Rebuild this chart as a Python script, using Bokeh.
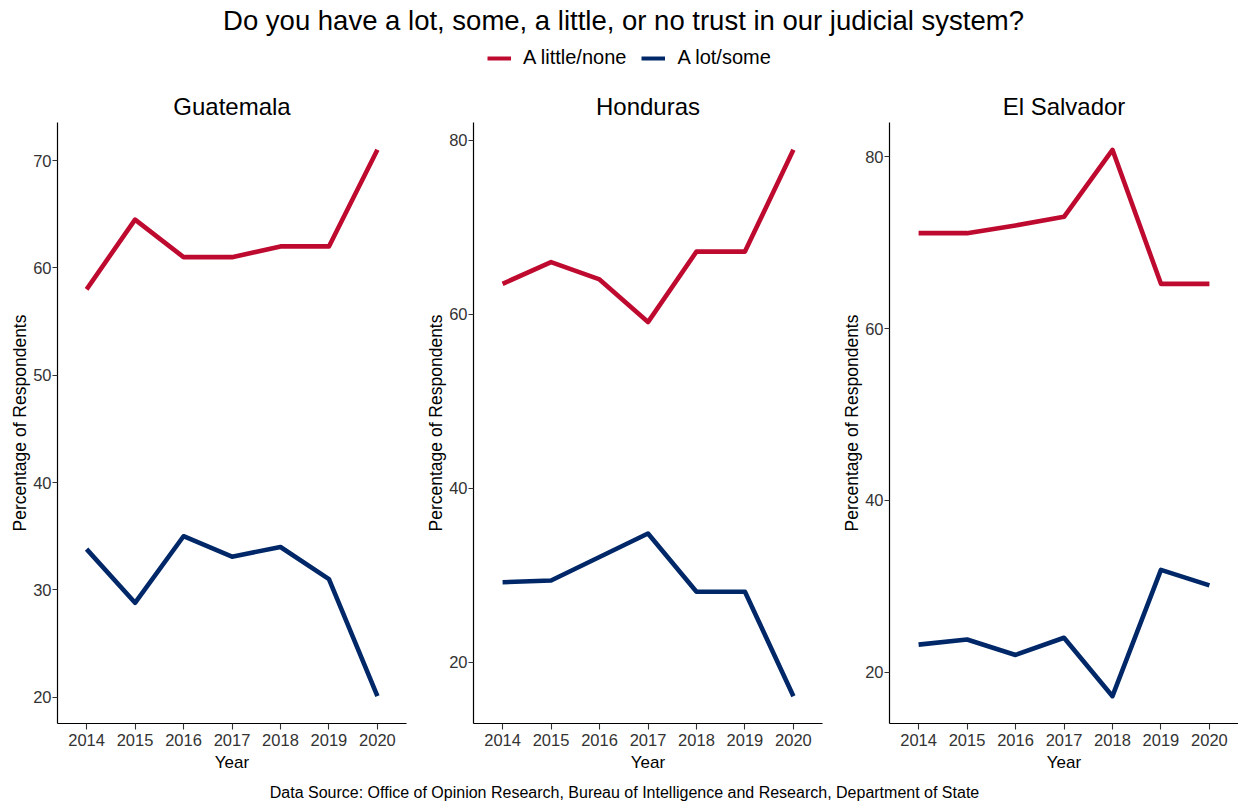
from bokeh.plotting import figure
from bokeh.layouts import column, row
from bokeh.models import Range1d, FixedTicker, Label, Legend, LegendItem
from bokeh.embed import file_html
from bokeh.resources import INLINE

# ---------------- data ----------------
title_text = "Do you have a lot, some, a little, or no trust in our judicial system?"
caption_text = ("Data Source: Office of Opinion Research, Bureau of Intelligence and Research, "
                "Department of State")
years = [2014, 2015, 2016, 2017, 2018, 2019, 2020]
series_names = ["A little/none", "A lot/some"]
countries = ["Guatemala", "Honduras", "El Salvador"]

guatemala_little_none = [58.0, 64.5, 61.0, 61.0, 62.0, 62.0, 71.0]
guatemala_lot_some = [33.8, 28.8, 35.0, 33.1, 34.0, 31.0, 20.1]
honduras_little_none = [63.5, 66.0, 64.0, 59.1, 67.2, 67.2, 78.9]
honduras_lot_some = [29.2, 29.4, 32.1, 34.8, 28.1, 28.1, 16.1]
el_salvador_little_none = [71.1, 71.1, 72.0, 73.0, 80.8, 65.2, 65.2]
el_salvador_lot_some = [23.2, 23.8, 22.0, 24.0, 17.2, 31.9, 30.1]

guatemala_yticks = [20, 30, 40, 50, 60, 70]
honduras_yticks = [20, 40, 60, 80]
el_salvador_yticks = [20, 40, 60, 80]

# ---------------- style ----------------
RED = "#BF0A30"
BLUE = "#002868"
FONT = "Liberation Sans"
HEADER_H = 84
PANEL_H = 691
FOOTER_H = 28


def panel(name, little, lot, yticks, width, b_left, b_right):
    vals = little + lot
    lo, hi = min(vals), max(vals)
    pad = 0.05 * (hi - lo)
    p = figure(width=width, height=PANEL_H,
               x_range=Range1d(years[0] - 0.6, years[-1] + 0.6),
               y_range=Range1d(lo - pad, hi + pad),
               toolbar_location=None, output_backend="svg", title=name,
               min_border_left=b_left, min_border_right=b_right,
               min_border_top=38, min_border_bottom=52)
    p.title.align = "center"
    p.title.text_font = FONT
    p.title.text_font_size = "24px"
    p.title.text_font_style = "normal"
    p.title.text_color = "black"
    p.title.standoff = 6
    p.grid.visible = False
    p.outline_line_color = None
    p.background_fill_color = "white"
    p.border_fill_color = "white"

    p.line(years, little, line_color=RED, line_width=4.6, line_join="round", line_cap="butt")
    p.line(years, lot, line_color=BLUE, line_width=4.6, line_join="round", line_cap="butt")

    p.xaxis.ticker = FixedTicker(ticks=years)
    p.yaxis.ticker = FixedTicker(ticks=yticks)
    p.xaxis.axis_label = "Year"
    p.yaxis.axis_label = "Percentage of Respondents"
    for ax in (p.xaxis[0], p.yaxis[0]):
        ax.major_tick_out = 5
        ax.major_tick_in = 0
        ax.minor_tick_out = 0
        ax.minor_tick_in = 0
        ax.axis_line_color = "black"
        ax.axis_line_width = 1.2
        ax.major_tick_line_color = "#333333"
        ax.major_tick_line_width = 1.1
        ax.major_label_text_font = FONT
        ax.major_label_text_font_size = "16.5px"
        ax.major_label_text_color = "#333333"
        ax.axis_label_text_font = FONT
        ax.axis_label_text_font_style = "normal"
        ax.axis_label_text_color = "black"
        ax.axis_label_standoff = 0
    p.xaxis.major_tick_out = 6
    p.xaxis.major_label_standoff = 4
    p.yaxis.major_label_standoff = 1
    p.xaxis.axis_label_standoff = 4
    p.xaxis.axis_label_text_font_size = "17px"
    p.yaxis.axis_label_text_font_size = "17.5px"
    return p


p1 = panel(countries[0], guatemala_little_none, guatemala_lot_some, guatemala_yticks, 419, 57, 13)
p2 = panel(countries[1], honduras_little_none, honduras_lot_some, honduras_yticks, 416, 54, 13)
p3 = panel(countries[2], el_salvador_little_none, el_salvador_lot_some, el_salvador_yticks, 403, 54, 0)

# ---------------- header: title + legend ----------------
h = figure(width=1238, height=HEADER_H, x_range=Range1d(0, 1), y_range=Range1d(0, 1),
           toolbar_location=None, output_backend="svg", min_border=0,
           x_axis_location=None, y_axis_location=None)
h.grid.visible = False
h.outline_line_color = None
r_red = h.line(x=[float("nan")], y=[float("nan")], line_color=RED, line_width=4, line_cap="butt")
r_blue = h.line(x=[float("nan")], y=[float("nan")], line_color=BLUE, line_width=4, line_cap="butt")
h.add_layout(Label(x=623, y=HEADER_H - 20, x_units="screen", y_units="screen", text=title_text,
                   text_align="center", text_baseline="middle", text_font=FONT,
                   text_font_size="27.5px", text_color="black"))
legend = Legend(items=[LegendItem(label=series_names[0], renderers=[r_red]),
                       LegendItem(label=series_names[1], renderers=[r_blue])],
                orientation="horizontal", location=(487, HEADER_H - 59 - 10),
                glyph_width=24, glyph_height=20, label_height=20, label_standoff=12,
                spacing=15, padding=0, margin=0, border_line_color=None,
                background_fill_alpha=0, label_text_font=FONT, label_text_font_size="20px",
                label_text_color="black")
h.add_layout(legend)

# ---------------- footer: caption ----------------
f = figure(width=1238, height=FOOTER_H, x_range=Range1d(0, 1), y_range=Range1d(0, 1),
           toolbar_location=None, output_backend="svg", min_border=0,
           x_axis_location=None, y_axis_location=None)
f.grid.visible = False
f.outline_line_color = None
f.add_layout(Label(x=624, y=FOOTER_H - 17, x_units="screen", y_units="screen", text=caption_text,
                   text_align="center", text_baseline="middle", text_font=FONT,
                   text_font_size="16px", text_color="black"))

layout = column(h, row(p1, p2, p3), f)
open("out.html", "w").write(file_html(layout, INLINE))
